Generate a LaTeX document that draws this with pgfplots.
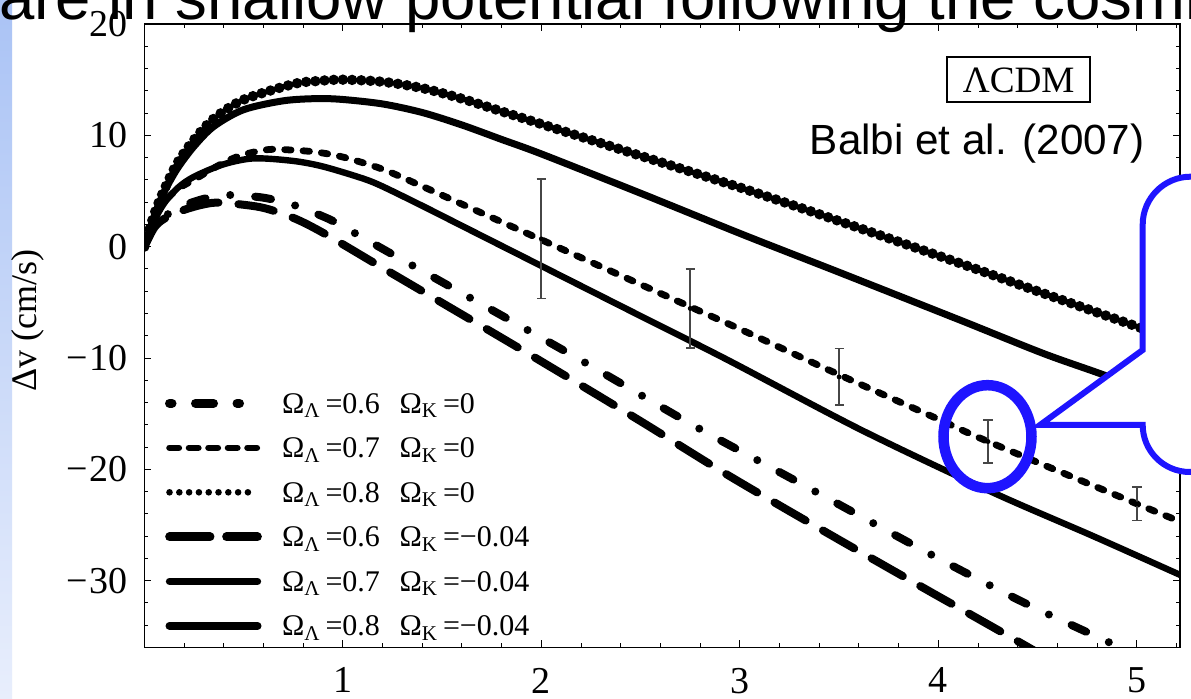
\documentclass[border=0pt]{standalone}
\usepackage{fontspec}
\setmainfont{Liberation Serif}
\newfontfamily\arial{Liberation Sans}
\usepackage{pgfplots}
\pgfplotsset{compat=1.18}
\definecolor{callblue}{RGB}{30,20,255}
\definecolor{errgray}{RGB}{70,70,70}

\pgfplotstableread{
x y
0 0
0.05 2.9
0.1 5.1
0.166 7.5
0.25 9.6
0.35 11.5
0.5 13.2
0.75 14.6
0.875 14.88
1.0 15.0
1.2 14.81
1.4 14.24
1.6 13.29
1.8 12.15
2.0 11.01
2.5 8.16
3.02 5.2
3.5 2.3
4.11 -1.5
4.53 -4.2
5.02 -7.3
5.22 -8.55
}\dottedA

\pgfplotstableread{
x y
0 0
0.05 2.75
0.1 4.9
0.166 7.0
0.25 9.0
0.35 10.8
0.5 12.3
0.7 13.1
0.87 13.3
1.0 13.22
1.2 12.82
1.4 12.05
1.6 10.93
1.8 9.63
2.0 8.33
2.5 4.8
3.02 1.05
3.5 -2.3
4.11 -6.6
4.53 -9.6
4.83 -11.5
5.22 -14.1
}\solidA

\pgfplotstableread{
x y
0 0
0.05 2.4
0.1 4.0
0.17 5.2
0.25 6.0
0.334 6.9
0.42 7.72
0.5 8.27
0.6 8.66
0.67 8.74
0.85 8.53
1.0 8.05
1.2 6.96
1.4 5.42
1.6 3.82
1.8 2.22
2.0 0.62
2.75 -5.4
3.02 -7.56
3.5 -11.5
4.0 -15.5
4.25 -17.5
5.0 -23.1
5.22 -24.7
}\dashedB

\pgfplotstableread{
x y
0 0
0.05 2.3
0.1 3.9
0.17 5.3
0.25 6.28
0.4 7.4
0.553 7.93
0.75 7.70
0.9 7.20
1.1 6.13
1.2 5.41
1.4 3.67
1.6 1.87
1.8 0.07
2.0 -1.73
2.5 -6.23
2.937 -10.16
3.61 -16.45
4.277 -22.1
4.78 -26.0
5.22 -29.5
}\solidB

\pgfplotstableread{
x y
0 0
0.05 1.8
0.1 2.7
0.2 3.7
0.3 4.3
0.37 4.53
0.435 4.64
0.6 4.40
0.75 3.76
0.914 2.61
1.0 1.82
1.216 -0.35
1.51 -3.28
2.18 -10.0
2.767 -16.06
3.278 -21.0
3.864 -26.7
4.16 -29.5
4.469 -32.3
4.904 -35.9
5.0 -36.7
}\dashdotC

\pgfplotstableread{
x y
0 0
0.05 1.7
0.1 2.5
0.2 3.3
0.3 3.8
0.385 3.95
0.586 3.54
0.75 2.59
0.9 1.25
1.174 -1.63
1.51 -5.15
1.93 -9.56
2.484 -15.5
2.938 -20.5
3.429 -25.6
3.94 -30.8
4.109 -32.5
4.445 -35.9
4.55 -37
}\longdashC

\pgfplotstableread{
x y e
2 0.7 5.35
2.75 -5.55 3.55
3.5 -11.7 2.55
4.25 -17.5 1.9
5.0 -23.1 1.5
}\obs

\begin{document}
\begin{tikzpicture}[x=0.5pt,y=0.5pt]
\useasboundingbox (0,0) rectangle (1191,699);
\clip (0,0) rectangle (1191,699);
\fill[white] (0,0) rectangle (1191,699);
\shade[top color={rgb,255:red,170;green,195;blue,245}, bottom color={rgb,255:red,232;green,238;blue,252}] (0,0) rectangle (12,699);

\node[anchor=base west, inner sep=0pt, font=\arial\fontsize{31.75}{32}\selectfont] at (-1,679) {are in shallow potential following the cosmic};

\begin{axis}[
  at={(72.15pt,25.75pt)}, anchor=south west,
  scale only axis, width=517.85pt, height=311.75pt,
  xmin=0, xmax=5.217, ymin=-36, ymax=20,
  axis line style={line width=0.65pt},
  major tick length=3.5pt, minor tick length=2pt,
  every tick/.style={line width=0.5pt, black},
  xtick={1,2,3,4,5}, xticklabels={1,2,3,4,5},
  minor xtick={0.2,0.4,0.6,0.8,1.2,1.4,1.6,1.8,2.2,2.4,2.6,2.8,3.2,3.4,3.6,3.8,4.2,4.4,4.6,4.8,5.2},
  ytick={-30,-20,-10,0,10,20},
  yticklabels={−\kern1pt30,−\kern1pt20,−\kern1pt10,0,10,20},
  minor ytick={-34,-32,-28,-26,-24,-22,-18,-16,-14,-12,-8,-6,-4,-2,2,4,6,8,12,14,16,18},
  ticklabel style={font=\fontsize{19}{19}\selectfont},
  xticklabel style={inner sep=0pt, yshift=-10pt},
  yticklabel style={inner sep=0pt, xshift=-8pt},
  ylabel={Δv (cm/s)},
  ylabel style={at={(axis description cs:-0.1128,0.525)}, anchor=center, font=\fontsize{18}{18}\selectfont, inner sep=0pt},
  legend cell align=left,
  legend style={at={(axis description cs:0.02,0.4205)}, anchor=north west, draw=none, fill=none,
    inner sep=0pt, outer sep=0pt, column sep=10pt, row sep=4.25pt,
    font=\fontsize{15}{15}\selectfont,
    cells={anchor=base west},
    nodes={inner sep=0pt, anchor=base west, text height=14pt, text depth=4pt}},
  legend image code/.code={\draw[#1] (0pt,5pt) -- (44pt,5pt);},
]
\addplot[forget plot, black, line width=5.25pt, line cap=round, dash pattern=on 0pt off 4.6pt, smooth] table {\dottedA};
\addplot[forget plot, black, line width=3.5pt, smooth] table {\solidA};
\addplot[forget plot, black, line width=3.4pt, line cap=round, dash pattern=on 3.2pt off 6pt, smooth] table {\dashedB};
\addplot[forget plot, black, line width=3.2pt, smooth] table {\solidB};
\addplot[forget plot, black, line width=4pt, line cap=round, dash pattern=on 8pt off 12.5pt on 0pt off 12.5pt, smooth] table {\dashdotC};
\addplot[forget plot, black, line width=4pt, line cap=round, dash pattern=on 18pt off 10pt, smooth] table {\longdashC};
\addplot[forget plot, only marks, mark=*, mark size=1pt, black,
  error bars/.cd, y dir=both, y explicit, error mark=|,
  error bar style={line width=0.9pt, errgray},
  error mark options={line width=0.9pt, errgray, mark size=2.3pt}]
  table[x=x, y=y, y error=e] {\obs};

\addlegendimage{black, line width=4.5pt, line cap=round, dash pattern=on 1.25pt off 11.75pt on 9pt off 11.75pt}
\addlegendentry{\makebox[58.8pt][l]{Ω\textsubscript{Λ}\,=0.6}Ω\textsubscript{K}\,=0}
\addlegendimage{black, line width=3.3pt, line cap=round, dash pattern=on 4.65pt off 5.1pt}
\addlegendentry{\makebox[58.8pt][l]{Ω\textsubscript{Λ}\,=0.7}Ω\textsubscript{K}\,=0}
\addlegendimage{black, line width=3.3pt, line cap=round, dash pattern=on 0pt off 4.9pt}
\addlegendentry{\makebox[58.8pt][l]{Ω\textsubscript{Λ}\,=0.8}Ω\textsubscript{K}\,=0}
\addlegendimage{black, line width=4.35pt, line cap=round, dash pattern=on 20.3pt off 8.2pt}
\addlegendentry{\makebox[58.8pt][l]{Ω\textsubscript{Λ}\,=0.6}Ω\textsubscript{K}\,=−0.04}
\addlegendimage{black, line width=3.65pt, line cap=round}
\addlegendentry{\makebox[58.8pt][l]{Ω\textsubscript{Λ}\,=0.7}Ω\textsubscript{K}\,=−0.04}
\addlegendimage{black, line width=4pt, line cap=round}
\addlegendentry{\makebox[58.8pt][l]{Ω\textsubscript{Λ}\,=0.8}Ω\textsubscript{K}\,=−0.04}
\end{axis}

% LCDM box and reference
\draw[line width=1pt] (947.3,641.7) rectangle (1090,597.3);
\node[anchor=base, inner sep=0pt, font=\fontsize{18.6}{18.6}\selectfont] at (1018.7,606.3) {ΛCDM};
\node[anchor=base west, inner sep=0pt, font=\arial\fontsize{21.1}{21.1}\selectfont] at (809.5,544) {Balbi et al. (2007)};

% callout
\draw[callblue, line width=3pt, fill=white, line join=miter]
  (1205,522.3) -- (1190.7,522.3) arc[start angle=90, end angle=180, radius=48]
  -- (1142.7,349) -- (1040,274) -- (1142.7,274)
  arc[start angle=180, end angle=270, radius=47] -- (1205,227);
\draw[callblue, line width=5.25pt] (987.5,262.3) ellipse [x radius=44, y radius=51.5];
\end{tikzpicture}
\end{document}
